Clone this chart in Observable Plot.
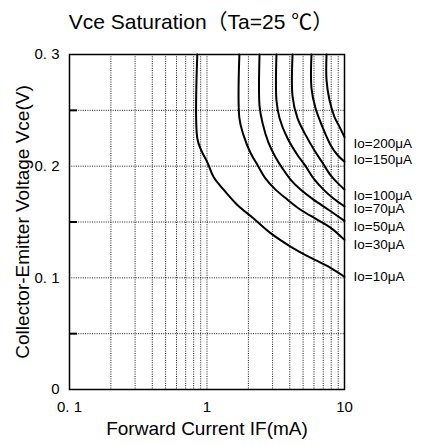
<!DOCTYPE html>
<html>
<head>
<meta charset="utf-8">
<script src="https://cdn.jsdelivr.net/npm/d3@7"></script>
<script src="https://cdn.jsdelivr.net/npm/@observablehq/plot@0.6"></script>
<style>
  html, body { margin: 0; padding: 0; background: #fff; }
</style>
</head>
<body>
<div id="chart"></div>
<script>
// ---- data ----
const title = "Vce Saturation（Ta=25 ℃）";
const xLabel = "Forward Current IF(mA)";
const yLabel = "Collector-Emitter Voltage Vce(V)";

const xTicks = [0.1, 1, 10];
const xTickLabels = ["0. 1", "1", "10"];
const yTicks = [0, 0.1, 0.2, 0.3];
const yTickLabels = ["0", "0. 1", "0. 2", "0. 3"];
const xGrid = [0.2, 0.3, 0.4, 0.5, 0.6, 0.7, 0.8, 0.9, 1, 2, 3, 4, 5, 6, 7, 8, 9];
const yGrid = [0.05, 0.1, 0.15, 0.2, 0.25];
const yMinorTicks = [0.05, 0.15, 0.25];

const ioSeries = ["10", "30", "50", "70", "100", "150", "200"];

const if10  = [0.85, 0.85, 0.91, 1.01, 1.12, 1.32, 1.67, 2.14, 2.90, 4.05, 5.66, 7.91, 10];
const v10   = [0.30, 0.225, 0.214, 0.203, 0.190, 0.179, 0.165, 0.154, 0.140, 0.128, 0.118, 0.109, 0.101];
const if30  = [1.72, 1.72, 1.84, 2.07, 2.33, 2.66, 3.15, 3.85, 4.79, 6.36, 7.91, 10];
const v30   = [0.30, 0.243, 0.228, 0.212, 0.201, 0.189, 0.179, 0.170, 0.161, 0.152, 0.145, 0.134];
const if50  = [2.41, 2.41, 2.53, 2.80, 3.15, 3.54, 4.05, 4.79, 5.95, 7.65, 10];
const v50   = [0.30, 0.254, 0.239, 0.221, 0.208, 0.198, 0.188, 0.179, 0.170, 0.161, 0.151];
const if70  = [3.20, 3.20, 3.37, 3.85, 4.55, 5.21, 5.95, 7.04, 8.32, 10];
const v70   = [0.30, 0.259, 0.243, 0.225, 0.210, 0.200, 0.189, 0.179, 0.171, 0.164];
const if100 = [4.19, 4.19, 4.55, 5.21, 6.05, 6.92, 7.91, 8.90, 10];
const v100  = [0.30, 0.2625, 0.243, 0.228, 0.214, 0.203, 0.192, 0.185, 0.179];
const if150 = [5.75, 5.75, 6.15, 6.92, 7.91, 8.90, 10];
const v150  = [0.30, 0.270, 0.252, 0.235, 0.219, 0.210, 0.204];
const if200 = [7.40, 7.40, 7.78, 8.46, 9.05, 10];
const v200  = [0.30, 0.277, 0.259, 0.244, 0.237, 0.226];

const ioLabels = ["Io=200μA", "Io=150μA", "Io=100μA", "Io=70μA", "Io=50μA", "Io=30μA", "Io=10μA"];
const labelVce = [0.2205, 0.2054, 0.174, 0.1616, 0.1455, 0.130, 0.1009];

// ---- build tables ----
const seriesIF = [if10, if30, if50, if70, if100, if150, if200];
const seriesV  = [v10, v30, v50, v70, v100, v150, v200];
const rows = [];
ioSeries.forEach((io, k) => {
  seriesIF[k].forEach((f, i) => rows.push({io, IF: f, V: seriesV[k][i]}));
});
const labelRows = ioLabels.map((t, i) => ({text: t, V: labelVce[i]}));
const xFmt = d => xTickLabels[xTicks.findIndex(t => Math.abs(t - d) < 1e-9)];
const yFmt = d => yTickLabels[yTicks.findIndex(t => Math.abs(t - d) < 1e-9)];

const font = "'Liberation Sans', Arial, 'Noto Sans CJK JP', sans-serif";

const chart = Plot.plot({
  width: 437,
  height: 445,
  marginLeft: 69,
  marginRight: 93,
  marginTop: 54,
  marginBottom: 56,
  style: {fontFamily: font, fontSize: "15px", color: "black", background: "white", overflow: "visible"},
  x: {type: "log", domain: [0.1, 10]},
  y: {domain: [0, 0.3]},
  marks: [
    Plot.ruleX(xGrid, {stroke: "black", strokeWidth: 1, strokeDasharray: "1,1.3", strokeOpacity: 0.9}),
    Plot.ruleY(yGrid, {stroke: "black", strokeWidth: 1, strokeDasharray: "1,1.3", strokeOpacity: 0.9}),
    Plot.ruleY(yMinorTicks, {x1: 0.1, x2: 0.1145, stroke: "black", strokeWidth: 2}),
    Plot.line(rows, {x: "IF", y: "V", z: "io", stroke: "black", strokeWidth: 2, curve: "catmull-rom"}),
    Plot.frame({stroke: "black", strokeWidth: 1.5}),
    Plot.axisX(xTicks, {tickSize: 0, tickPadding: 12, tickFormat: xFmt, label: null, fontSize: 15}),
    Plot.axisY(yTicks, {tickSize: 0, tickPadding: 10, tickFormat: yFmt, label: null, fontSize: 15}),
    Plot.text(labelRows, {y: "V", text: "text", frameAnchor: "right", textAnchor: "start", dx: 9, fontSize: 13.5, letterSpacing: "0.4px"}),
    Plot.text([xLabel], {frameAnchor: "bottom", dy: 45, fontSize: 19}),
    Plot.text([yLabel], {frameAnchor: "left", textAnchor: "middle", rotate: -90, dx: -47, fontSize: 19, letterSpacing: "0.8px"}),
    Plot.text([title], {frameAnchor: "top", dy: -40, dx: -6, fontSize: 21, letterSpacing: "0.5px"})
  ]
});
document.getElementById("chart").appendChild(chart);
</script>
</body>
</html>
